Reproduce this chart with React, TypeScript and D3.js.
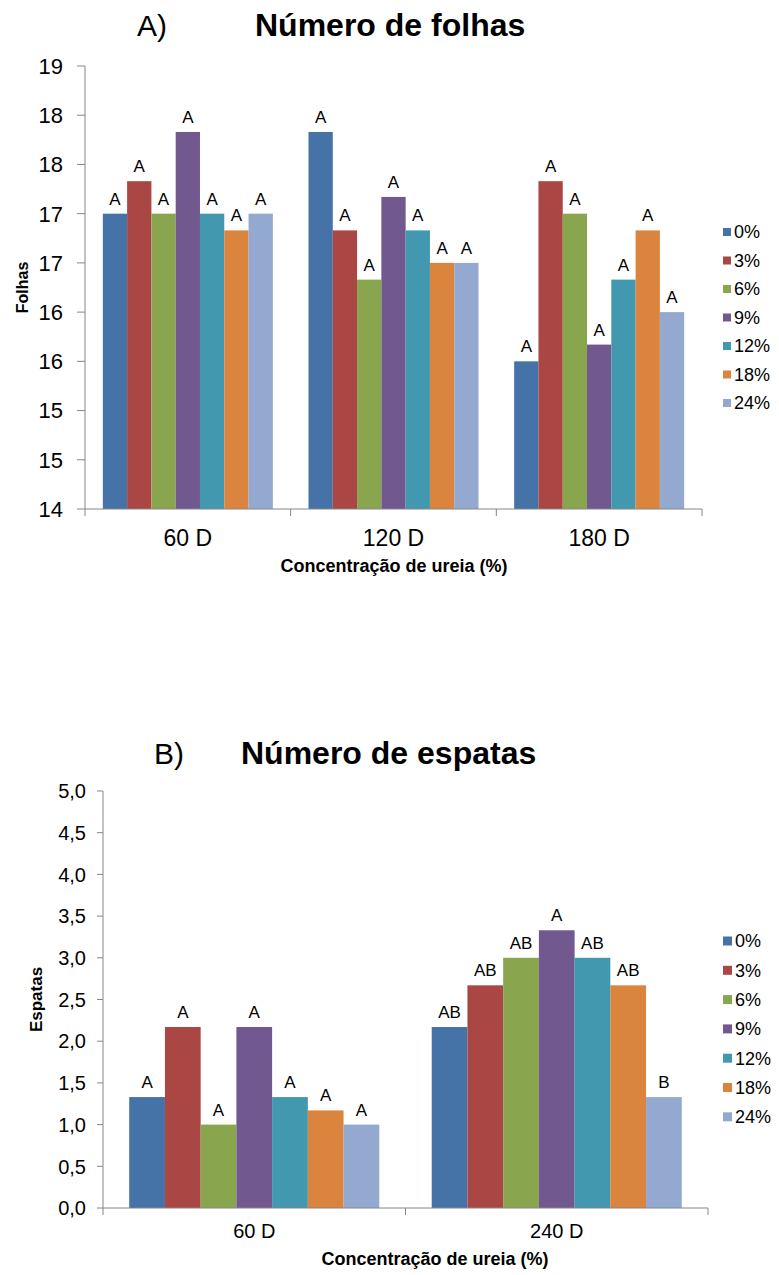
import React from 'react';
import * as d3 from 'd3';

// Treatments (urea concentration) and their series colours
const SERIES = ['0%', '3%', '6%', '9%', '12%', '18%', '24%'];
const COLORS = ['#4572A7', '#AA4643', '#89A54E', '#71588F', '#4198AF', '#DB843D', '#93A9CF'];

// A) Número de folhas
const FOLHAS_DAYS = ['60 D', '120 D', '180 D'];
const FOLHAS_60 = [17.0, 17.33, 17.0, 17.83, 17.0, 16.83, 17.0];
const FOLHAS_120 = [17.83, 16.83, 16.33, 17.17, 16.83, 16.5, 16.5];
const FOLHAS_180 = [15.5, 17.33, 17.0, 15.67, 16.33, 16.83, 16.0];
const FOLHAS_LETTERS_60 = ['A', 'A', 'A', 'A', 'A', 'A', 'A'];
const FOLHAS_LETTERS_120 = ['A', 'A', 'A', 'A', 'A', 'A', 'A'];
const FOLHAS_LETTERS_180 = ['A', 'A', 'A', 'A', 'A', 'A', 'A'];
const FOLHAS_TICKS = [14, 14.5, 15, 15.5, 16, 16.5, 17, 17.5, 18, 18.5];
const FOLHAS_TICK_LABELS = ['14', '15', '15', '16', '16', '17', '17', '18', '18', '19'];

// B) Número de espatas
const ESPATAS_DAYS = ['60 D', '240 D'];
const ESPATAS_60 = [1.33, 2.17, 1.0, 2.17, 1.33, 1.17, 1.0];
const ESPATAS_240 = [2.17, 2.67, 3.0, 3.33, 3.0, 2.67, 1.33];
const ESPATAS_LETTERS_60 = ['A', 'A', 'A', 'A', 'A', 'A', 'A'];
const ESPATAS_LETTERS_240 = ['AB', 'AB', 'AB', 'A', 'AB', 'AB', 'B'];
const ESPATAS_TICKS = [0, 0.5, 1, 1.5, 2, 2.5, 3, 3.5, 4, 4.5, 5];
const ESPATAS_TICK_LABELS = ['0,0', '0,5', '1,0', '1,5', '2,0', '2,5', '3,0', '3,5', '4,0', '4,5', '5,0'];

const FONT = '"Liberation Sans", Arial, Helvetica, sans-serif';
const AXIS_COLOR = '#868686';

type PanelProps = {
  letter: string;
  title: string;
  yTitle: string;
  xTitle: string;
  days: string[];
  values: number[][];
  letters: string[][];
  ticks: number[];
  tickLabels: string[];
  yDomain: [number, number];
  layout: {
    left: number; right: number; top: number; bottom: number;
    tickLen: number; tickFont: number; tickGap: number;
    yTitleX: number; yTitleFont: number;
    catFont: number; catBaseline: number;
    xTitleX: number; xTitleBaseline: number; xTitleFont: number;
    letterX: number; letterFont: number;
    titleX: number; titleBaseline: number; titleFont: number;
    legendX: number; legendY: number; legendStep: number; legendBox: number;
    labelFont: number;
  };
};

function BarPanel(p: PanelProps) {
  const L = p.layout;
  const pad = 0.1734;
  const x0 = d3.scaleBand<string>().domain(p.days).range([L.left, L.right])
    .paddingInner(pad).paddingOuter(pad / 2);
  const x1 = d3.scaleBand<string>().domain(SERIES).range([0, x0.bandwidth()]).padding(0);
  const y = d3.scaleLinear().domain(p.yDomain).range([L.bottom, L.top]);
  const step = x0.step();
  const boundaries = d3.range(p.days.length + 1).map((i) => L.left + i * step);

  return (
    <g fontFamily={FONT}>
      {/* panel heading */}
      <text x={L.letterX} y={L.titleBaseline} fontSize={L.letterFont}>{p.letter}</text>
      <text x={L.titleX} y={L.titleBaseline} fontSize={L.titleFont} fontWeight="bold">{p.title}</text>

      {/* bars */}
      {p.days.map((day, di) => (
        <g key={day} transform={`translate(${x0(day)},0)`}>
          {SERIES.map((s, si) => {
            const v = p.values[di][si];
            return (
              <rect key={s} x={x1(s)} y={y(v)} width={x1.bandwidth()} height={y(p.yDomain[0]) - y(v)}
                fill={COLORS[si]} />
            );
          })}
          {SERIES.map((s, si) => {
            const v = p.values[di][si];
            return (
              <text key={s + 'l'} x={(x1(s) as number) + x1.bandwidth() / 2} y={y(v) - 9}
                fontSize={L.labelFont} textAnchor="middle" fill="#000">{p.letters[di][si]}</text>
            );
          })}
        </g>
      ))}

      {/* y axis */}
      <line x1={L.left} x2={L.left} y1={L.top} y2={L.bottom} stroke={AXIS_COLOR} strokeWidth={1} />
      {p.ticks.map((t, i) => (
        <g key={t}>
          <line x1={L.left - L.tickLen} x2={L.left} y1={y(t)} y2={y(t)} stroke={AXIS_COLOR} strokeWidth={1} />
          <text x={L.left - L.tickGap} y={y(t)} dy="0.36em" textAnchor="end" fontSize={L.tickFont} fill="#000">
            {p.tickLabels[i]}
          </text>
        </g>
      ))}
      <text transform={`translate(${L.yTitleX},${(L.top + L.bottom) / 2}) rotate(-90)`} textAnchor="middle"
        fontSize={L.yTitleFont} fontWeight="bold">{p.yTitle}</text>

      {/* x axis */}
      <line x1={L.left} x2={L.right} y1={L.bottom} y2={L.bottom} stroke={AXIS_COLOR} strokeWidth={1} />
      {boundaries.map((bx, i) => (
        <line key={i} x1={bx} x2={bx} y1={L.bottom} y2={L.bottom + 7} stroke={AXIS_COLOR} strokeWidth={1} />
      ))}
      {p.days.map((day) => (
        <text key={day} x={(x0(day) as number) + x0.bandwidth() / 2} y={L.catBaseline} textAnchor="middle"
          fontSize={L.catFont}>{day}</text>
      ))}
      <text x={L.xTitleX} y={L.xTitleBaseline} textAnchor="middle" fontSize={L.xTitleFont} fontWeight="bold">
        {p.xTitle}
      </text>

      {/* legend */}
      {SERIES.map((s, i) => {
        const cy = L.legendY + i * L.legendStep;
        return (
          <g key={s}>
            <rect x={L.legendX} y={cy - L.legendBox / 2} width={L.legendBox} height={L.legendBox} fill={COLORS[i]} />
            <text x={L.legendX + L.legendBox + 3} y={cy} dy="0.36em" fontSize={18}>{s}</text>
          </g>
        );
      })}
    </g>
  );
}

export default function App() {
  return (
    <svg width={779} height={1275} viewBox="0 0 779 1275"
      style={{ position: 'absolute', left: 0, top: 0, display: 'block', background: '#fff' }}>
      <rect width={779} height={1275} fill="#fff" />
      <BarPanel
        letter="A)"
        title="Número de folhas"
        yTitle="Folhas"
        xTitle="Concentração de ureia (%)"
        days={FOLHAS_DAYS}
        values={[FOLHAS_60, FOLHAS_120, FOLHAS_180]}
        letters={[FOLHAS_LETTERS_60, FOLHAS_LETTERS_120, FOLHAS_LETTERS_180]}
        ticks={FOLHAS_TICKS}
        tickLabels={FOLHAS_TICK_LABELS}
        yDomain={[14, 18.5]}
        layout={{
          left: 85, right: 702, top: 66, bottom: 509,
          tickLen: 8, tickFont: 22, tickGap: 22,
          yTitleX: 28, yTitleFont: 16,
          catFont: 23, catBaseline: 546,
          xTitleX: 394, xTitleBaseline: 572, xTitleFont: 18,
          letterX: 137, letterFont: 30, titleX: 255, titleBaseline: 36, titleFont: 32,
          legendX: 723, legendY: 232, legendStep: 28.5, legendBox: 8,
          labelFont: 17,
        }}
      />
      <BarPanel
        letter="B)"
        title="Número de espatas"
        yTitle="Espatas"
        xTitle="Concentração de ureia (%)"
        days={ESPATAS_DAYS}
        values={[ESPATAS_60, ESPATAS_240]}
        letters={[ESPATAS_LETTERS_60, ESPATAS_LETTERS_240]}
        ticks={ESPATAS_TICKS}
        tickLabels={ESPATAS_TICK_LABELS}
        yDomain={[0, 5]}
        layout={{
          left: 103, right: 708, top: 791, bottom: 1208,
          tickLen: 6, tickFont: 20, tickGap: 17,
          yTitleX: 42, yTitleFont: 17,
          catFont: 20, catBaseline: 1238,
          xTitleX: 435, xTitleBaseline: 1265, xTitleFont: 18,
          letterX: 154, letterFont: 30, titleX: 241, titleBaseline: 764, titleFont: 32,
          legendX: 723, legendY: 941, legendStep: 29.3, legendBox: 9,
          labelFont: 17,
        }}
      />
    </svg>
  );
}
